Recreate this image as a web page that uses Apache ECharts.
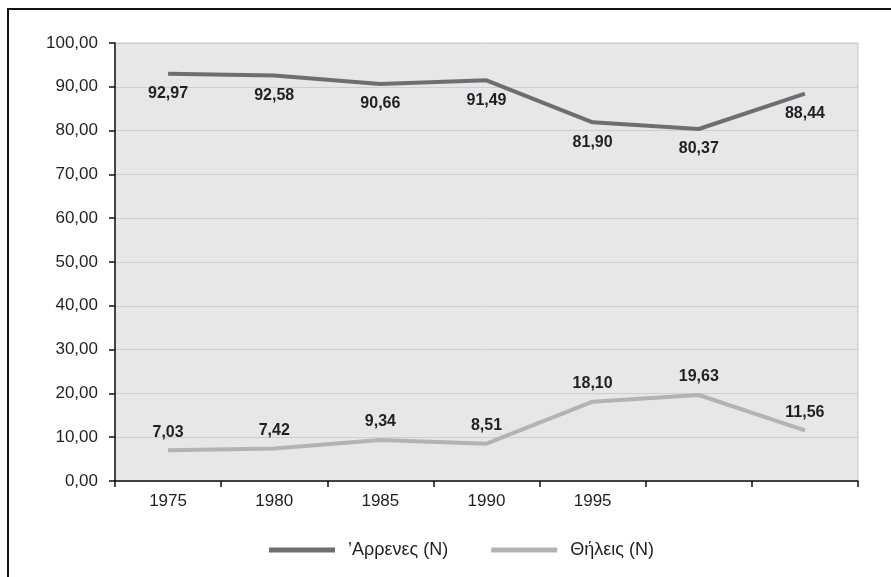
<!DOCTYPE html>
<html>
<head>
<meta charset="utf-8">
<script src="https://cdn.jsdelivr.net/npm/echarts@6/dist/echarts.min.js"></script>
<style>
    html, body {margin: 0; padding: 0; background: #fff;}
    #frame {position: absolute; left: 7px; top: 8px; width: 884px; height: 569px; border-top: 2px solid #111; border-left: 2px solid #111;}
    #chart {position: absolute; left: 0; top: 0; width: 891px; height: 577px;}
</style>
</head>
<body>
<div id="frame"></div>
<div id="chart"></div>
<script>
var years = ['1975', '1980', '1985', '1990', '1995', '', ''];
var maleValues = [92.97, 92.58, 90.66, 91.49, 81.90, 80.37, 88.44];
var femaleValues = [7.03, 7.42, 9.34, 8.51, 18.10, 19.63, 11.56];
var seriesNames = ['\u2019Αρρενες (N)', 'Θήλεις (N)'];

var fontName = '"Liberation Sans", Arial, sans-serif';

function fmt(v) {
    return Number(v).toFixed(2).replace('.', ',');
}

// 基于准备好的dom，初始化echarts实例
var myChart = echarts.init(document.getElementById('chart'));
var option = {
    backgroundColor: 'transparent',
    textStyle: {fontFamily: fontName},
    grid: {
        left: 115, right: 33, top: 43, bottom: 96,
        show: true, backgroundColor: '#e6e7e8', borderColor: '#c9cacb', borderWidth: 1
    },
    legend: {
        top: 536,
        left: 264,
        icon: 'rect',
        itemWidth: 66,
        itemHeight: 5,
        itemGap: 43,
        data: seriesNames,
        textStyle: {fontFamily: fontName, fontSize: 18, color: '#231f20', padding: [0, 0, 0, 8]}
    },
    xAxis: {
        type: 'category',
        data: years,
        boundaryGap: true,
        axisLine: {lineStyle: {color: '#111', width: 1.5}},
        axisTick: {show: true, length: 6, lineStyle: {color: '#111', width: 1.5}},
        axisLabel: {fontFamily: fontName, fontSize: 17, color: '#231f20', margin: 12},
        splitLine: {show: false}
    },
    yAxis: {
        type: 'value',
        min: 0, max: 100, interval: 10,
        axisLine: {show: true, lineStyle: {color: '#111', width: 1.5}},
        axisTick: {show: true, length: 6, lineStyle: {color: '#111', width: 1.5}},
        axisLabel: {fontFamily: fontName, fontSize: 17, color: '#231f20', margin: 17, formatter: fmt},
        splitLine: {lineStyle: {color: '#cdcecf', width: 1}}
    },
    series: [
        {
            name: seriesNames[0],
            type: 'line',
            data: maleValues,
            symbol: 'circle',
            symbolSize: 0,
            showSymbol: true,
            lineStyle: {color: '#6d6e71', width: 4},
            itemStyle: {color: '#6d6e71'},
            label: {
                show: true, position: 'bottom', distance: 12,
                formatter: function (p) { return fmt(p.value); },
                fontFamily: fontName, fontSize: 16, fontWeight: 'bold', color: '#231f20'
            }
        },
        {
            name: seriesNames[1],
            type: 'line',
            data: femaleValues,
            symbol: 'circle',
            symbolSize: 0,
            showSymbol: true,
            lineStyle: {color: '#b1b3b5', width: 4},
            itemStyle: {color: '#b1b3b5'},
            label: {
                show: true, position: 'top', distance: 10,
                formatter: function (p) { return fmt(p.value); },
                fontFamily: fontName, fontSize: 16, fontWeight: 'bold', color: '#231f20'
            }
        }
    ]
};
// 使用刚指定的配置项和数据显示图表。
myChart.setOption(option);
</script>
</body>
</html>
